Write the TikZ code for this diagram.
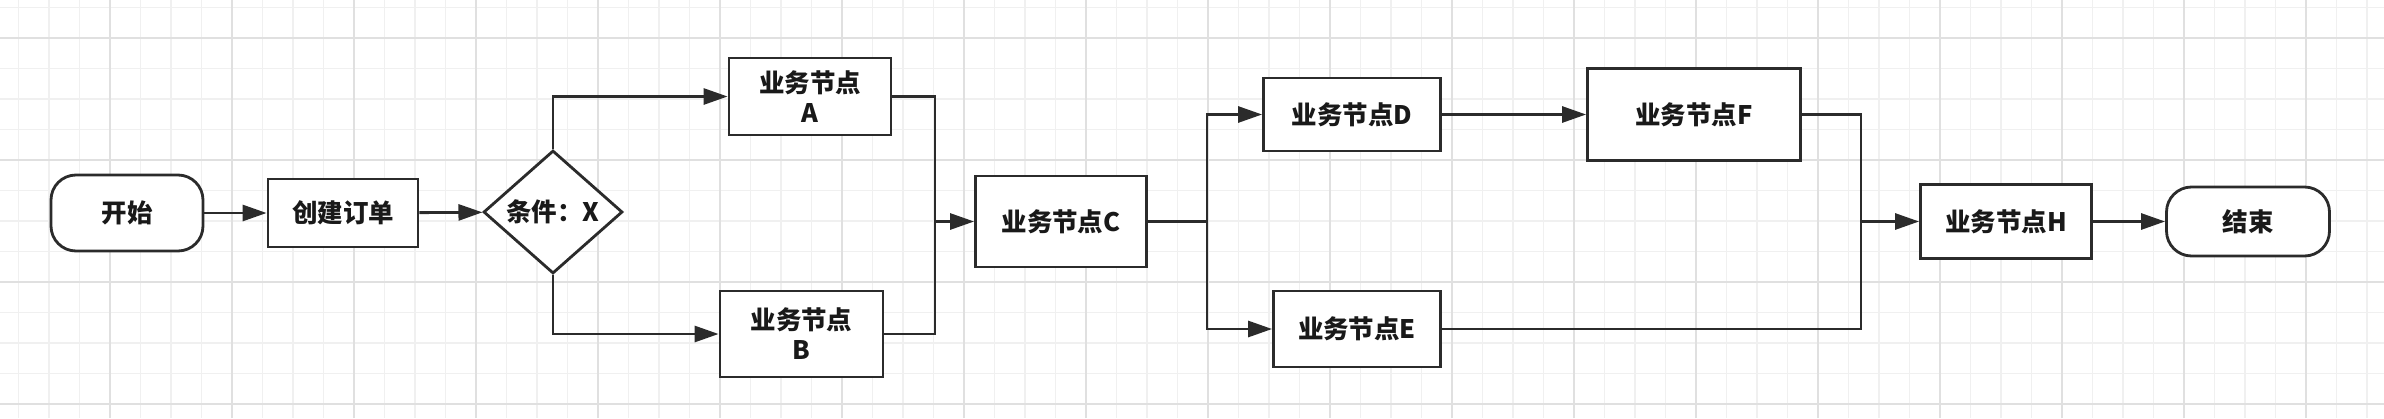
\documentclass[tikz,border=0pt]{standalone}
\usepackage{fontspec}
\newfontfamily\cjk{Noto Sans CJK SC}
\usepackage{tikz}
\usetikzlibrary{calc,positioning,shapes.geometric,arrows.meta}
\usepackage{xcolor}
\definecolor{linegray}{HTML}{2B2B2B}
\definecolor{minorgray}{HTML}{F0F0F0}
\definecolor{majorgray}{HTML}{E0E0E0}

\tikzset{
  box/.style={draw=linegray, line width=1.6pt, fill=white, inner sep=0pt,
    align=center, font=\cjk\bfseries\fontsize{14.5}{17}\selectfont, text=black!90},
  process/.style={box, rectangle},
  startstop/.style={box, rectangle, rounded corners=0.5cm},
  decision/.style={box, diamond, aspect=1.13},
  line/.style={draw=linegray, line width=1.6pt},
  arr/.style={line, -{Triangle[length=0.48cm,width=0.32cm]}},
  gridminor/.style={draw=minorgray, line width=0.8pt},
  gridmajor/.style={draw=majorgray, line width=1.1pt}
}

\begin{document}
\begin{tikzpicture}
\useasboundingbox (0,0) rectangle (47.68,8.36);
\fill[white] (0,0) rectangle (47.68,8.36);

% background grid
\begin{scope}
\clip (0,0) rectangle (47.68,8.36);
\foreach \i in {0,...,78} \draw[gridminor] ({0.37+0.61*\i},0) -- ++(0,8.36);
\foreach \j in {0,...,13} \draw[gridminor] (0,{0.28+0.61*\j}) -- ++(47.68,0);
\foreach \i in {0,...,19} \draw[gridmajor] ({2.2+2.44*\i},0) -- ++(0,8.36);
\foreach \j in {0,...,3} \draw[gridmajor] (0,{0.28+2.44*\j}) -- ++(47.68,0);
\end{scope}

% nodes
\node[startstop, minimum width=3.04cm, minimum height=1.52cm] (start) at (2.54,4.10) {开始};
\node[process, minimum width=3.0cm, minimum height=1.36cm] (order) at (6.86,4.10) {创建订单};
\node[decision, minimum width=2.78cm, minimum height=2.46cm] (cond) at (11.06,4.12) {条件：X};
\node[process, minimum width=3.24cm, minimum height=1.54cm] (nodeA) at (16.2,6.43) {业务节点\\A};
\node[process, minimum width=3.26cm, minimum height=1.72cm] (nodeB) at (16.03,1.68) {业务节点\\B};
\node[process, minimum width=3.42cm, minimum height=1.82cm] (nodeC) at (21.22,3.93) {业务节点C};
\node[process, minimum width=3.54cm, minimum height=1.46cm] (nodeD) at (27.04,6.07) {业务节点D};
\node[process, minimum width=3.34cm, minimum height=1.52cm] (nodeE) at (27.14,1.78) {业务节点E};
\node[process, minimum width=4.26cm, minimum height=1.84cm] (nodeF) at (33.88,6.07) {业务节点F};
\node[process, minimum width=3.42cm, minimum height=1.48cm] (nodeH) at (40.12,3.93) {业务节点H};
\node[startstop, minimum width=3.26cm, minimum height=1.38cm] (finish) at (44.96,3.93) {结束};

% junction points
\coordinate (joinAB) at (18.7,3.93);
\coordinate (splitC) at (24.14,3.93);
\coordinate (joinFE) at (37.22,3.93);

% connectors
\draw[arr] (start) -- (order);
\draw[arr] (order) -- (cond);
\draw[arr] (cond.north) |- (nodeA.west);
\draw[arr] (cond.south) |- (nodeB.west);
\draw[line] (nodeA.east) -| (joinAB);
\draw[line] (nodeB.east) -| (joinAB);
\draw[arr] (joinAB) -- (nodeC.west);
\draw[line] (nodeC.east) -- (splitC);
\draw[arr] (splitC) |- (nodeD.west);
\draw[arr] (splitC) |- (nodeE.west);
\draw[arr] (nodeD) -- (nodeF);
\draw[line] (nodeF.east) -| (joinFE);
\draw[line] (nodeE.east) -| (joinFE);
\draw[arr] (joinFE) -- (nodeH.west);
\draw[arr] (nodeH) -- (finish);
\end{tikzpicture}
\end{document}
